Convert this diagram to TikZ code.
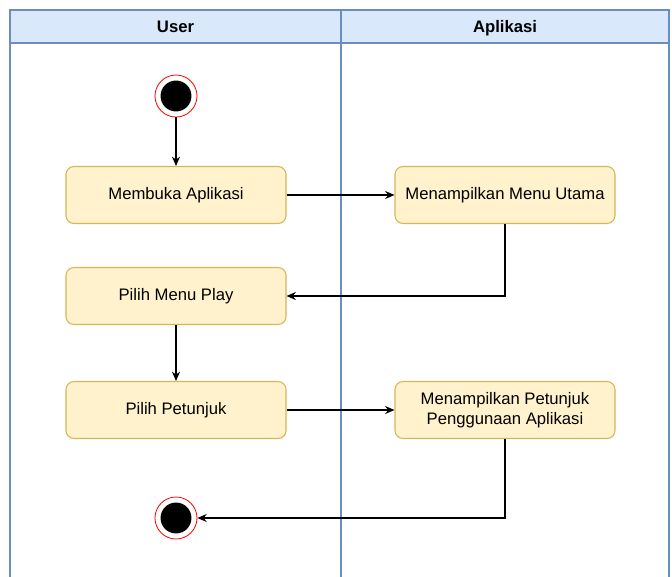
\documentclass[tikz,border=0pt]{standalone}
\usepackage{fontspec}
\setmainfont{Liberation Sans}
\usetikzlibrary{arrows.meta,positioning}

\definecolor{lanefill}{HTML}{DAE8FC}
\definecolor{laneline}{HTML}{6C8EBF}
\definecolor{actfill}{HTML}{FFF2CC}
\definecolor{actline}{HTML}{D6B656}

\tikzset{
  activity/.style={rectangle, rounded corners=6pt, draw=actline, fill=actfill,
    minimum width=165pt, minimum height=42.75pt, align=center,
    font=\fontsize{12.5}{15}\selectfont},
  terminal/.style={circle, draw=red, line width=0.6pt, fill=white, minimum size=31.5pt, inner sep=0pt,
    path picture={\fill[black] (path picture bounding box.center) circle (11.6pt);}},
  lanehead/.style={anchor=base, font=\bfseries\fontsize{12.5}{15}\selectfont}
}

\begin{document}
\begin{tikzpicture}[x=0.75pt, y=-0.75pt, >={Stealth[length=7pt,width=6pt]}, line width=0.8pt]
    \useasboundingbox (0,0) rectangle (672,576);
    % swimlanes
    \begin{scope}
      \clip (0,0) rectangle (672,576);
      \fill[lanefill] (10,10) rectangle (669,43);
      \draw[laneline] (10,590) -- (10,10) -- (669,10) -- (669,590);
      \draw[laneline] (10,43) -- (669,43);
      \draw[laneline] (341,10) -- (341,590);
    \end{scope}
    \node[lanehead] (user) at (175.5,32.5) {User};
    \node[lanehead] (app) at (505,32.5) {Aplikasi};

    \node[terminal] (start) at (176,96) {};
    \node[activity] (buka) at (176,195) {Membuka Aplikasi};
    \node[activity] (menu) at (505,195) {Menampilkan Menu Utama};
    \node[activity] (play) at (176,296) {Pilih Menu Play};
    \node[activity] (petunjuk) at (176,410) {Pilih Petunjuk};
    \node[activity] (tampil) at (505,410) {Menampilkan Petunjuk\\Penggunaan Aplikasi};
    \node[terminal] (stop) at (176,518) {};

    \path[->] (start) edge (buka)
              (buka) edge (menu)
              (play) edge (petunjuk)
              (petunjuk) edge (tampil);
    \draw[->] (menu) |- (play);
    \draw[->] (tampil) |- (stop);
  \end{tikzpicture}
\end{document}
